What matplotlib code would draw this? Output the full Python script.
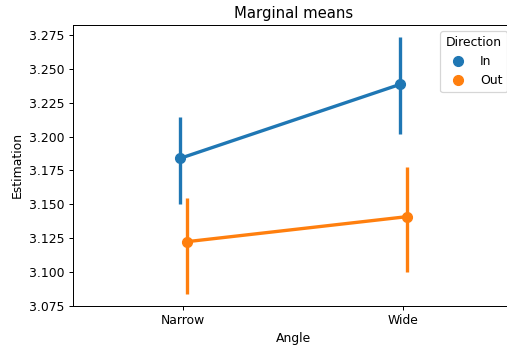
import numpy as np
import matplotlib
matplotlib.use("Agg")
import matplotlib.pyplot as plt
from matplotlib.lines import Line2D

# Marginal means by angle and direction, with CI bounds
angles = ["Narrow", "Wide"]
directions = ["In", "Out"]
means_in = [3.1839, 3.2386]
means_out = [3.1223, 3.1408]
ci_low_in = [3.1499, 3.2019]
ci_high_in = [3.2147, 3.2738]
ci_low_out = [3.0836, 3.0997]
ci_high_out = [3.1544, 3.1777]

colors = ["#1f77b4", "#ff7f0e"]

DPI = 89
fig = plt.figure(figsize=(507 / DPI, 347 / DPI), dpi=DPI)
ax = fig.add_axes([0.1446, 0.119, 0.868, 0.809])

x = np.arange(len(angles))
offsets = [-0.015, 0.015]
series = [
    (means_in, ci_low_in, ci_high_in),
    (means_out, ci_low_out, ci_high_out),
]

for (m, lo, hi), off, c in zip(series, offsets, colors):
    xs = x + off
    ax.vlines(xs, lo, hi, color=c, linewidth=2.7, zorder=2)
    ax.plot(xs, m, color=c, linewidth=2.7, marker="o", markersize=8, zorder=3)

ax.set_xticks(x)
ax.set_xticklabels(angles)
ax.set_xlim(-0.5, 1.5)
ax.set_ylim(3.075, 3.2825)
ax.set_yticks(np.arange(3.075, 3.2751, 0.025))
ax.set_xlabel("Angle")
ax.set_ylabel("Estimation")
ax.set_title("Marginal means")

handles = [Line2D([], [], color=c, marker="o", linestyle="", markersize=8) for c in colors]
ax.legend(handles, directions, title="Direction", loc="upper right")

fig.savefig("out.png", dpi=DPI)
